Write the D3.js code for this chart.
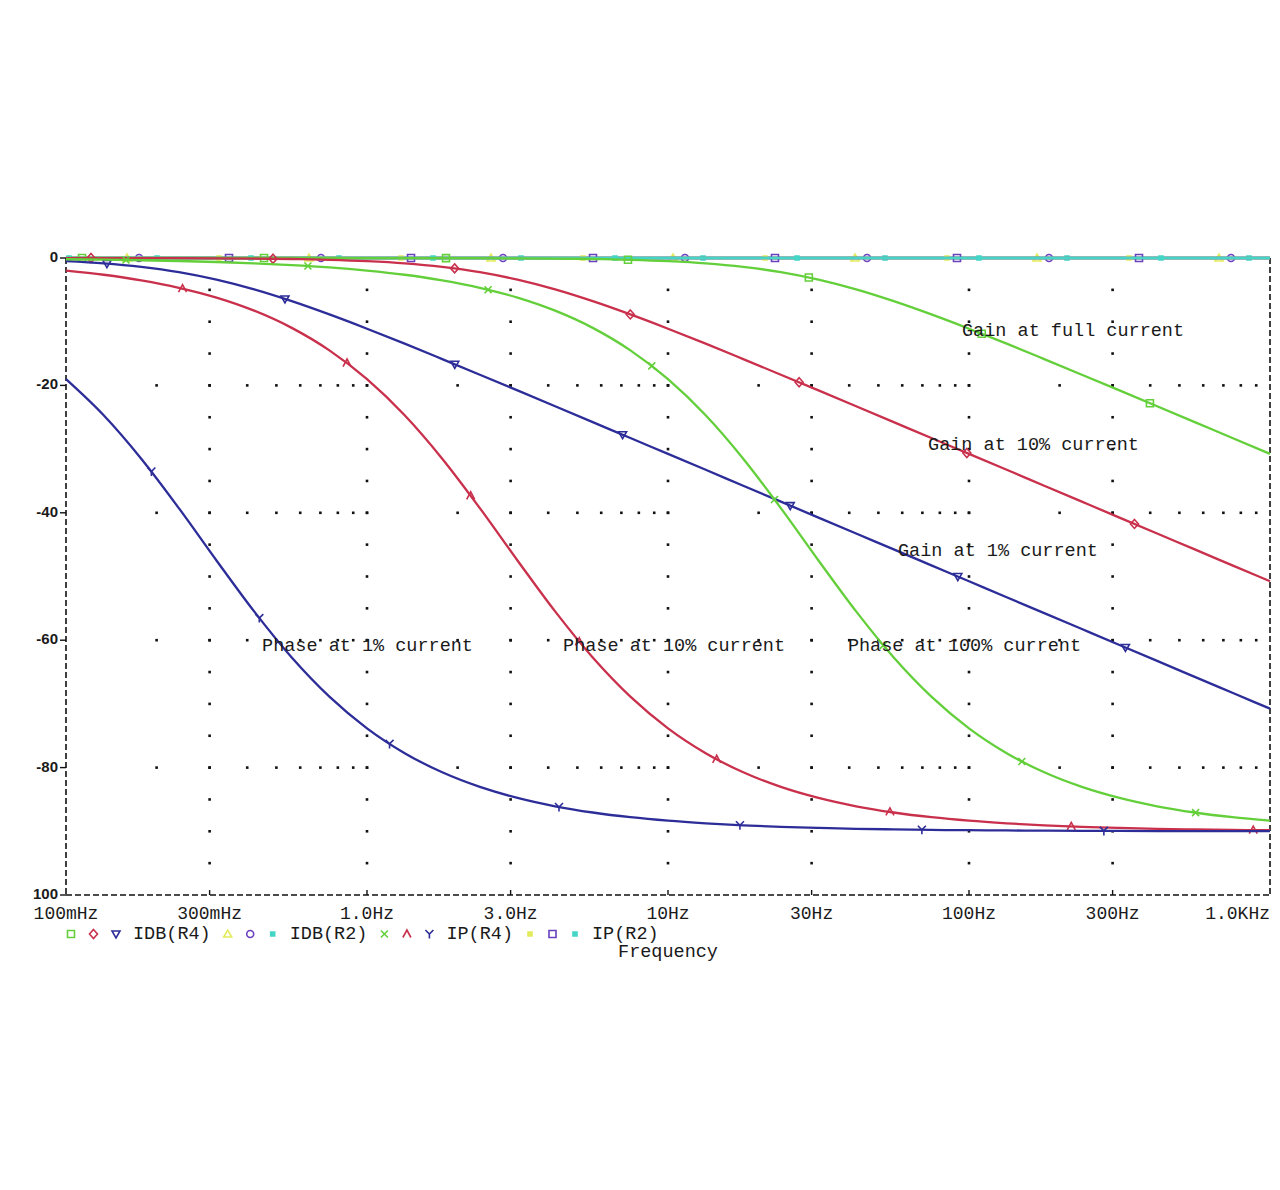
<!DOCTYPE html>
<html>
<head>
<meta charset="utf-8">
<script src="https://cdn.jsdelivr.net/npm/d3@7"></script>
<style>
  body { margin: 0; background: #fff; }
  .mono { font-family: "Liberation Mono", "DejaVu Sans Mono", monospace; fill: #1a1a1a; }
  .ylab { font-family: "Liberation Sans", Arial, sans-serif; font-weight: bold; fill: #1a1a1a; }
</style>
</head>
<body>
<div id="root"></div>
<script>
// frequency points, 8 per decade (Hz)
const freqs = [0.1, 0.1334, 0.1778, 0.2371, 0.3162, 0.4217, 0.5623, 0.7499,
  1, 1.334, 1.778, 2.371, 3.162, 4.217, 5.623, 7.499,
  10, 13.34, 17.78, 23.71, 31.62, 42.17, 56.23, 74.99,
  100, 133.4, 177.8, 237.1, 316.2, 421.7, 562.3, 749.9, 1000];

// IDB(R4) - gain in dB
const gainFull = [0, 0, 0, 0, 0, 0, 0, 0, -0.01, -0.01, -0.02, -0.03, -0.05, -0.09, -0.16, -0.28,
  -0.49, -0.83, -1.39, -2.22, -3.40, -4.93, -6.78, -8.86, -11.10, -13.45, -15.87, -18.32,
  -20.79, -23.27, -25.76, -28.26, -30.75];
const gain10 = [-0.01, -0.01, -0.02, -0.03, -0.05, -0.09, -0.16, -0.28, -0.49, -0.83, -1.39,
  -2.22, -3.40, -4.93, -6.78, -8.86, -11.10, -13.45, -15.87, -18.32, -20.79, -23.27, -25.76,
  -28.26, -30.75, -33.25, -35.75, -38.25, -40.75, -43.25, -45.75, -48.25, -50.75];
const gain1 = [-0.49, -0.83, -1.39, -2.22, -3.40, -4.93, -6.78, -8.86, -11.10, -13.45, -15.87,
  -18.32, -20.79, -23.27, -25.76, -28.26, -30.75, -33.25, -35.75, -38.25, -40.75, -43.25,
  -45.75, -48.25, -50.75, -53.25, -55.75, -58.25, -60.75, -63.25, -65.75, -68.25, -70.75];

// IP(R4) - phase in degrees
const phaseFull = [-0.20, -0.26, -0.35, -0.47, -0.63, -0.83, -1.11, -1.48, -1.98, -2.63, -3.51,
  -4.68, -6.22, -8.27, -10.97, -14.50, -19.02, -24.69, -31.51, -39.27, -47.48, -55.48, -62.72,
  -68.86, -73.83, -77.73, -80.74, -83.03, -84.76, -86.07, -87.05, -87.79, -88.34];
const phase10 = [-1.98, -2.63, -3.51, -4.68, -6.22, -8.27, -10.97, -14.50, -19.02, -24.69,
  -31.51, -39.27, -47.48, -55.48, -62.72, -68.86, -73.83, -77.73, -80.74, -83.03, -84.76,
  -86.07, -87.05, -87.79, -88.34, -88.75, -89.07, -89.30, -89.47, -89.61, -89.70, -89.78, -89.83];
const phase1 = [-19.02, -24.69, -31.51, -39.27, -47.48, -55.48, -62.72, -68.86, -73.83, -77.73,
  -80.74, -83.03, -84.76, -86.07, -87.05, -87.79, -88.34, -88.75, -89.07, -89.30, -89.47,
  -89.61, -89.70, -89.78, -89.83, -89.87, -89.90, -89.93, -89.94, -89.96, -89.97, -89.98, -89.98];

// IDB(R2) and IP(R2) stay flat at 0
const flatFreqs = [0.1, 1000];
const flatValues = [0, 0];

const xTicks = [0.1, 0.3, 1, 3, 10, 30, 100, 300, 1000];
const xTickLabels = ["100mHz", "300mHz", "1.0Hz", "3.0Hz", "10Hz", "30Hz", "100Hz", "300Hz", "1.0KHz"];
const yTicks = [0, -20, -40, -60, -80, -100];
const yTickLabels = ["0", "-20", "-40", "-60", "-80", "100"];
const legendNames = ["IDB(R4)", "IDB(R2)", "IP(R4)", "IP(R2)"];

const annotations = [
  { text: "Gain at full current", f: 94.8, v: -11.5 },
  { text: "Gain at 10% current", f: 73.1, v: -29.4 },
  { text: "Gain at 1% current", f: 58.1, v: -46.0 },
  { text: "Phase at 1% current", f: 0.448, v: -60.9 },
  { text: "Phase at 10% current", f: 4.48, v: -60.9 },
  { text: "Phase at 100% current", f: 39.6, v: -60.9 }
];

const GREEN = "#63cf3a", RED = "#c9304c", BLUE = "#2d2d99",
  YELLOW = "#e3ec5c", PURPLE = "#6a40bd", CYAN = "#44d5c6";

// marker glyphs
const sym = {
  square: "M-3.5,-3.5H3.5V3.5H-3.5Z",
  diamond: "M0,-4.5L4,0L0,4.5L-4,0Z",
  tri: "M-4,-3L4,-3L0,4Z",
  up: "M-4,3L0,-4L4,3Z",
  circle: "M-3.5,0A3.5,3.5 0 1,0 3.5,0A3.5,3.5 0 1,0 -3.5,0Z",
  cross: "M-3.5,-3.5L3.5,3.5M-3.5,3.5L3.5,-3.5",
  caret: "M-4,3.5L0,-4L4,3.5",
  ypsilon: "M-4,-4L0,0L4,-4M0,0L0,4.5",
  dot: "M-2,-2H2V2H-2Z"
};

// drawing order: R2 traces first, then R4 gain, then R4 phase
const traces = [
  { f: flatFreqs, v: flatValues, color: YELLOW, sym: "up", off: 61 },
  { f: flatFreqs, v: flatValues, color: PURPLE, sym: "circle", off: 73 },
  { f: flatFreqs, v: flatValues, color: CYAN, sym: "dot", off: 91 },
  { f: flatFreqs, v: flatValues, color: YELLOW, sym: "dot", off: 153 },
  { f: flatFreqs, v: flatValues, color: PURPLE, sym: "square", off: 163 },
  { f: flatFreqs, v: flatValues, color: CYAN, sym: "dot", off: 3 },
  { f: freqs, v: gainFull, color: GREEN, sym: "square", off: 16 },
  { f: freqs, v: gain10, color: RED, sym: "diamond", off: 25 },
  { f: freqs, v: gain1, color: BLUE, sym: "tri", off: 41 },
  { f: freqs, v: phaseFull, color: GREEN, sym: "cross", off: 60 },
  { f: freqs, v: phase10, color: RED, sym: "caret", off: 118 },
  { f: freqs, v: phase1, color: BLUE, sym: "ypsilon", off: 126 }
];

const legendGroups = [
  { name: legendNames[0], syms: [["square", GREEN], ["diamond", RED], ["tri", BLUE]] },
  { name: legendNames[1], syms: [["up", YELLOW], ["circle", PURPLE], ["dot", CYAN]] },
  { name: legendNames[2], syms: [["cross", GREEN], ["caret", RED], ["ypsilon", BLUE]] },
  { name: legendNames[3], syms: [["dot", YELLOW], ["square", PURPLE], ["dot", CYAN]] }
];

const width = 1280;
const height = 1190;
const plotLeft = 66, plotRight = 1270, plotTop = 258, plotBottom = 895;

const svg = d3.select("#root").append("svg")
  .attr("width", width)
  .attr("height", height);

const x = d3.scaleLog().domain([0.1, 1000]).range([plotLeft, plotRight]);
const y = d3.scaleLinear().domain([0, -100]).range([plotTop, plotBottom]);

// grid dots: vertical columns
const gridCols = xTicks.slice(1, -1);
const dots = svg.append("g").attr("fill", "#111");
gridCols.forEach((f) => {
  dots.selectAll(null)
    .data(d3.range(-5, -100, -5))
    .join("rect")
    .attr("x", x(f) - 1.3)
    .attr("y", (d) => y(d) - 1.3)
    .attr("width", 2.6)
    .attr("height", 2.6);
});
// grid dots: horizontal rows at minor log positions
const minor = x.ticks().filter((f) => f > 0.1 && f < 1000);
yTicks.slice(1, -1).forEach((v) => {
  dots.selectAll(null)
    .data(minor)
    .join("rect")
    .attr("x", (d) => x(d) - 1.3)
    .attr("y", y(v) - 1.3)
    .attr("width", 2.6)
    .attr("height", 2.6);
});

// frame, dashed
const frame = svg.append("g")
  .attr("stroke", "#111")
  .attr("stroke-width", 1.6)
  .attr("stroke-dasharray", "6,3");
frame.append("line").attr("x1", plotLeft).attr("x2", plotRight).attr("y1", plotBottom).attr("y2", plotBottom);
frame.append("line").attr("x1", plotLeft).attr("x2", plotRight).attr("y1", plotTop).attr("y2", plotTop);
frame.append("line").attr("x1", plotLeft).attr("x2", plotLeft).attr("y1", plotTop).attr("y2", plotBottom);
frame.append("line").attr("x1", plotRight).attr("x2", plotRight).attr("y1", plotTop).attr("y2", plotBottom);

// axis ticks
svg.append("g").attr("stroke", "#111").attr("stroke-width", 1.4)
  .selectAll("line").data(gridCols).join("line")
  .attr("x1", (d) => x(d)).attr("x2", (d) => x(d))
  .attr("y1", plotBottom).attr("y2", plotBottom - 5);
svg.append("g").attr("stroke", "#111").attr("stroke-width", 1.4)
  .selectAll("line").data(yTicks).join("line")
  .attr("x1", plotLeft - 6).attr("x2", plotLeft)
  .attr("y1", (d) => y(d)).attr("y2", (d) => y(d));

// tick labels (last one ends at the frame edge)
svg.append("g").selectAll("text").data(xTicks).join("text")
  .attr("class", "mono")
  .attr("x", (d) => x(d))
  .attr("y", plotBottom + 19)
  .attr("dominant-baseline", "middle")
  .attr("text-anchor", (d, i) => (i === xTicks.length - 1 ? "end" : "middle"))
  .attr("font-size", 18)
  .text((d, i) => xTickLabels[i]);

svg.append("g").selectAll("text").data(yTicks).join("text")
  .attr("class", "ylab")
  .attr("x", plotLeft - 8)
  .attr("y", (d) => y(d))
  .attr("dominant-baseline", "middle")
  .attr("text-anchor", "end")
  .attr("font-size", 15)
  .text((d, i) => yTickLabels[i]);

// traces
const line = d3.line()
  .x((d) => x(d[0]))
  .y((d) => y(d[1]))
  .curve(d3.curveMonotoneX);

const markerSpacing = 182;
traces.forEach((t) => {
  const pts = t.f.map((f, i) => [f, t.v[i]]);
  const path = svg.append("path")
    .datum(pts)
    .attr("fill", "none")
    .attr("stroke", t.color)
    .attr("stroke-width", 2.3)
    .attr("d", line);
  const node = path.node();
  const total = node.getTotalLength();
  const spots = d3.range(t.off, total, markerSpacing).map((s) => node.getPointAtLength(s));
  svg.append("g").selectAll("path").data(spots).join("path")
    .attr("transform", (p) => `translate(${p.x},${p.y})`)
    .attr("d", sym[t.sym])
    .attr("fill", t.sym === "dot" ? t.color : "none")
    .attr("stroke", t.color)
    .attr("stroke-width", 1.6);
});

// annotations
svg.append("g").selectAll("text").data(annotations).join("text")
  .attr("class", "mono")
  .attr("x", (d) => x(d.f))
  .attr("y", (d) => y(d.v))
  .attr("dominant-baseline", "middle")
  .attr("font-size", 18.5)
  .text((d) => d.text);

// legend
const charW = 11.1;
let gx = 71;
const legendY = 934;
legendGroups.forEach((g) => {
  g.syms.forEach(([s, c], i) => {
    svg.append("path")
      .attr("transform", `translate(${gx + i * 22.5},${legendY})`)
      .attr("d", sym[s])
      .attr("fill", s === "dot" ? c : "none")
      .attr("stroke", c)
      .attr("stroke-width", 1.6);
  });
  const tx = gx + 62;
  svg.append("text")
    .attr("class", "mono")
    .attr("x", tx)
    .attr("y", legendY)
    .attr("dominant-baseline", "middle")
    .attr("font-size", 18.5)
    .text(g.name);
  gx = tx + g.name.length * charW + 17;
});

svg.append("text")
  .attr("class", "mono")
  .attr("x", x(10))
  .attr("y", 952)
  .attr("dominant-baseline", "middle")
  .attr("text-anchor", "middle")
  .attr("font-size", 18.5)
  .text("Frequency");
</script>
</body>
</html>
